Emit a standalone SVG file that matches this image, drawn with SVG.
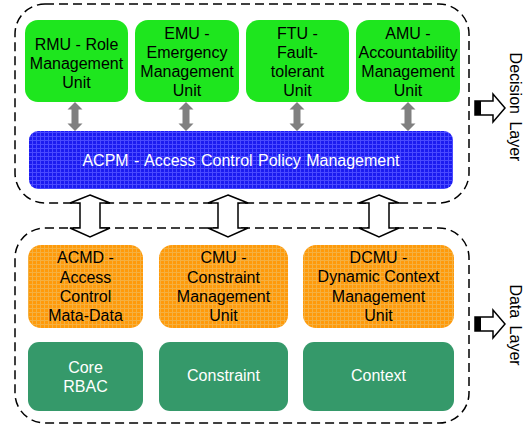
<svg xmlns="http://www.w3.org/2000/svg" width="532" height="432" viewBox="0 0 532 432">
<style>
.layer{fill:none;stroke:#000;stroke-width:1.5;stroke-dasharray:9 5}
.g{fill:#1ee61e}
.o{fill:url(#po)}
.dg{fill:#35996a}
.t{font-family:"Liberation Sans",Arial,sans-serif;font-size:16px;fill:#000;text-anchor:middle}
.tw{font-family:"Liberation Sans",Arial,sans-serif;font-size:16px;fill:#fff;text-anchor:middle}
.ga{fill:#808080}
.ha{fill:#fff;stroke:#000;stroke-width:1.5;stroke-linejoin:miter}
</style>
<defs>
<pattern id="pb" width="4" height="4" patternUnits="userSpaceOnUse">
<rect width="4" height="4" fill="#1c1cf0"/>
<path d="M0 0.5H4M0.5 0V4" stroke="#4a4aff" stroke-width="1"/>
</pattern>
<pattern id="po" width="4" height="4" patternUnits="userSpaceOnUse">
<rect width="4" height="4" fill="#ff9a0a"/>
<path d="M0 0.5H4M0.5 0V4" stroke="#f5b040" stroke-width="1"/>
</pattern>
</defs>

<g id="decision-layer">
<rect class="layer" x="15" y="4" width="454" height="199" rx="30"/>
</g>
<g id="data-layer">
<rect class="layer" x="15" y="228" width="454" height="195" rx="30"/>
</g>

<g id="rmu">
<rect class="g" x="25" y="20" width="103" height="82" rx="13"/>
<text class="t"><tspan x="76.5" y="50">RMU - Role</tspan><tspan x="76.5" y="69">Management</tspan><tspan x="76.5" y="88">Unit</tspan></text>
</g>
<g id="emu">
<rect class="g" x="135" y="20" width="104" height="82" rx="13"/>
<text class="t"><tspan x="187" y="39">EMU -</tspan><tspan x="187" y="58">Emergency</tspan><tspan x="187" y="77">Management</tspan><tspan x="187" y="96">Unit</tspan></text>
</g>
<g id="ftu">
<rect class="g" x="246" y="20" width="103" height="82" rx="13"/>
<text class="t"><tspan x="297.5" y="39">FTU -</tspan><tspan x="297.5" y="58">Fault-</tspan><tspan x="297.5" y="77">tolerant</tspan><tspan x="297.5" y="96">Unit</tspan></text>
</g>
<g id="amu">
<rect class="g" x="356" y="20" width="104" height="82" rx="13"/>
<text class="t"><tspan x="408" y="39">AMU -</tspan><tspan x="408" y="58" textLength="99" lengthAdjust="spacingAndGlyphs">Accountability</tspan><tspan x="408" y="77">Management</tspan><tspan x="408" y="96">Unit</tspan></text>
</g>

<g id="acpm">
<rect x="29" y="131" width="424" height="58" rx="9" fill="url(#pb)"/>
<text class="tw" x="241" y="165.5" word-spacing="1">ACPM - Access Control Policy  Management</text>
</g>

<g id="acmd">
<rect class="o" x="28" y="245" width="115" height="83" rx="13"/>
<text class="t"><tspan x="85.5" y="263">ACMD -</tspan><tspan x="85.5" y="283">Access</tspan><tspan x="85.5" y="302">Control</tspan><tspan x="85.5" y="321">Mata-Data</tspan></text>
</g>
<g id="cmu">
<rect class="o" x="159" y="245" width="129" height="83" rx="13"/>
<text class="t"><tspan x="223.5" y="263">CMU -</tspan><tspan x="223.5" y="283">Constraint</tspan><tspan x="223.5" y="302">Management</tspan><tspan x="223.5" y="321">Unit</tspan></text>
</g>
<g id="dcmu">
<rect class="o" x="303" y="245" width="151" height="83" rx="13"/>
<text class="t"><tspan x="378.5" y="263">DCMU -</tspan><tspan x="378.5" y="282">Dynamic Context</tspan><tspan x="378.5" y="302">Management</tspan><tspan x="378.5" y="321">Unit</tspan></text>
</g>

<g id="core-rbac">
<rect class="dg" x="28" y="342" width="115" height="69" rx="11"/>
<text class="tw"><tspan x="85.5" y="373">Core</tspan><tspan x="85.5" y="392">RBAC</tspan></text>
</g>
<g id="constraint">
<rect class="dg" x="159" y="342" width="129" height="69" rx="11"/>
<text class="tw" x="223.5" y="380.5">Constraint</text>
</g>
<g id="context">
<rect class="dg" x="303" y="342" width="151" height="69" rx="11"/>
<text class="tw" x="378.5" y="380.5">Context</text>
</g>

<g id="connectors">
<path class="ga" d="M75 102L82.5 109.5H78.5V123.5H82.5L75 131L67.5 123.5H71.5V109.5H67.5Z"/>
<path class="ga" d="M186 102L193.5 109.5H189.5V123.5H193.5L186 131L178.5 123.5H182.5V109.5H178.5Z"/>
<path class="ga" d="M297 102L304.5 109.5H300.5V123.5H304.5L297 131L289.5 123.5H293.5V109.5H289.5Z"/>
<path class="ga" d="M408 102L415.5 109.5H411.5V123.5H415.5L408 131L400.5 123.5H404.5V109.5H400.5Z"/>
<path class="ha" d="M90 195L110 203H100V228H110L90 237L70 228H80V203H70Z"/>
<path class="ha" d="M228 195L248 203H238V228H248L228 237L208 228H218V203H208Z"/>
<path class="ha" d="M379 195L399 203H389V228H399L379 237L359 228H369V203H359Z"/>
</g>

<g id="decision-label">
<path class="ha" d="M475 101H493V94L505 108L493 122V115H475Z"/>
<rect x="475" y="101" width="6" height="14" fill="#000"/>
<text class="t" transform="translate(510,107) rotate(90)" word-spacing="3">Decision Layer</text>
</g>
<g id="data-label">
<path class="ha" d="M475 317H493V310L505 324L493 338V331H475Z"/>
<rect x="475" y="317" width="6" height="14" fill="#000"/>
<text class="t" transform="translate(510,325) rotate(90)" word-spacing="3">Data Layer</text>
</g>
</svg>
